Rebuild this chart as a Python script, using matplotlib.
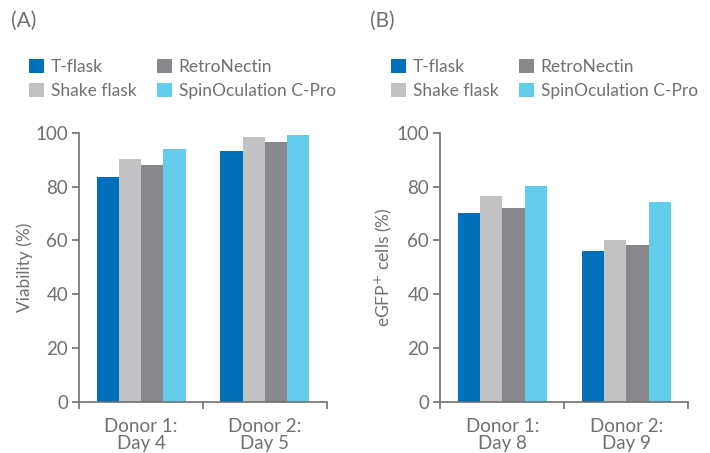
import matplotlib.pyplot as plt
import numpy as np

plt.rcParams['font.family'] = ['Lato', 'DejaVu Sans']

series = ["T-flask", "Shake flask", "RetroNectin", "SpinOculation C-Pro"]
colors = ["#0070BA", "#C1C2C4", "#87888C", "#62CDEB"]

groups_a = ["Donor 1:\nDay 4", "Donor 2:\nDay 5"]
viability = [
    [83.4, 93.1],   # T-flask
    [90.3, 98.3],   # Shake flask
    [88.0, 96.4],   # RetroNectin
    [93.8, 99.1],   # SpinOculation C-Pro
]

groups_b = ["Donor 1:\nDay 8", "Donor 2:\nDay 9"]
egfp = [
    [70.3, 55.9],
    [76.5, 60.0],
    [72.1, 58.1],
    [80.2, 74.1],
]

gray = "#707070"
W, H = 710, 453
fig = plt.figure(figsize=(W / 100, H / 100), dpi=100)


def panel(left_px, right_px, groups, values, ylabel, tag, tag_x, leg_x):
    ax = fig.add_axes([left_px / W, (H - 401.7) / H, (right_px - left_px) / W, 269 / H])
    x = np.arange(len(groups))
    bw = 0.18
    handles = []
    for i, (name, col) in enumerate(zip(series, colors)):
        b = ax.bar(x + (i - 1.5) * bw, values[i], bw, color=col, edgecolor="none", label=name)
        handles.append(b)
    ax.set_xlim(-0.5, len(groups) - 0.5)
    ax.set_ylim(0, 100)
    ax.set_yticks(range(0, 101, 20))
    ax.set_xticks(x)
    ax.set_xticklabels(groups, color=gray, fontsize=13.5, linespacing=0.95)
    ax.set_xticks(np.arange(-0.5, len(groups), 1.0), minor=True)
    ax.tick_params(axis="x", which="major", length=0, pad=12)
    ax.tick_params(axis="x", which="minor", length=5, width=1.2, color=gray)
    ax.tick_params(axis="y", length=5, width=1.2, color=gray, labelcolor=gray, labelsize=13.5, pad=3)
    for s in ["top", "right"]:
        ax.spines[s].set_visible(False)
    for s in ["left", "bottom"]:
        ax.spines[s].set_color(gray)
        ax.spines[s].set_linewidth(1.2)
    ax.set_ylabel(ylabel, color=gray, fontsize=12.5, labelpad=2)
    fig.text(tag_x / W, 1 - 21 / H, tag, color=gray, fontsize=15, va="center", ha="left")
    fig.legend(handles, series, loc="upper left", bbox_to_anchor=(leg_x / W, 1 - 59 / H),
               ncol=2, frameon=False, fontsize=12.5, labelcolor=gray,
               handlelength=0.85, handleheight=0.85, handletextpad=0.4,
               columnspacing=1.2, labelspacing=0.45, borderpad=0, borderaxespad=0)
    return ax


panel(79.3, 326.7, groups_a, viability, "Viability (%)", "(A)", 11, 29)
panel(440.3, 688.3, groups_b, egfp, "eGFP$^{+}$ cells (%)", "(B)", 370, 391)

fig.savefig("out.png", dpi=100)
